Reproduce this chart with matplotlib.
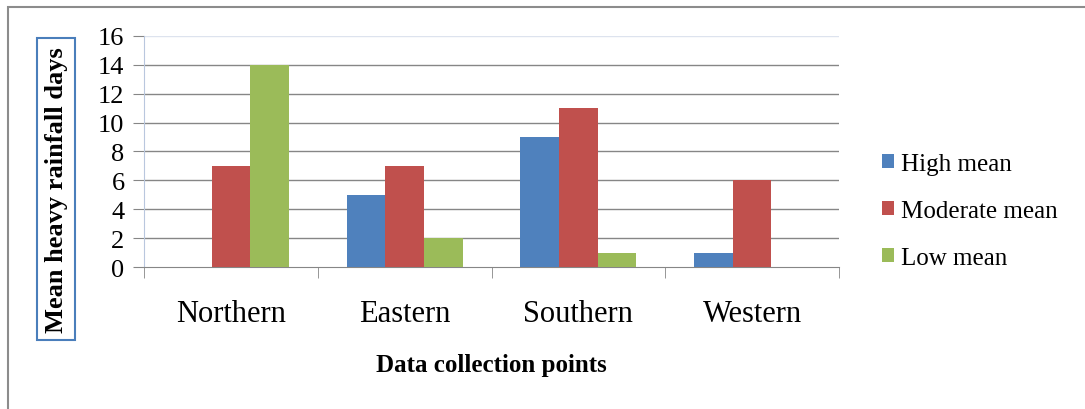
import numpy as np
import matplotlib.pyplot as plt
from matplotlib.patches import Rectangle

# Mean heavy rainfall days per collection point
points = ["Northern", "Eastern", "Southern", "Western"]
high_mean = [0, 5, 9, 1]
moderate_mean = [7, 7, 11, 6]
low_mean = [14, 2, 1, 0]

series = [("High mean", high_mean, "#4F81BD"),
          ("Moderate mean", moderate_mean, "#C0504D"),
          ("Low mean", low_mean, "#9BBB59")]

plt.rcParams['font.family'] = ['Liberation Serif', 'DejaVu Serif']

fig = plt.figure(figsize=(10.85, 4.10), dpi=100)
ax = fig.add_axes([0.1327, 0.3463, 0.6406, 0.5635])

# outer chart frame
fig.patches.append(Rectangle((8 / 1085, -0.1), 1.2, 0.1 + 1 - 8 / 410,
                             transform=fig.transFigure, fill=False,
                             ec="#8c8c8c", lw=1.5))

x = np.arange(len(points))
width = 1 / 4.5
for i, (name, vals, color) in enumerate(series):
    ax.bar(x + (i - 1) * width, vals, width, color=color, label=name, zorder=3)

ax.set_xlim(-0.5, len(points) - 0.5)
ax.set_ylim(0, 16)
ax.set_yticks(range(0, 17, 2))
ax.tick_params(axis='y', labelsize=19, length=8, color="#868686", pad=6)
ax.set_xticks(x)
ax.set_xticklabels(points, fontsize=22)
ax.tick_params(axis='x', length=0, pad=23)
ax.set_xticks(np.arange(-0.5, len(points)), minor=True)
ax.tick_params(axis='x', which='minor', length=8, color="#868686")

for y in range(2, 17, 2):
    ax.axhline(y, color="#868686" if y < 16 else "#dde3ee", lw=1, zorder=1)

for side in ("top", "right"):
    ax.spines[side].set_visible(False)
ax.spines["left"].set_color("#b9c7de")
ax.spines["bottom"].set_color("#868686")

ax.set_xlabel("Data collection points", fontsize=18, fontweight="bold", labelpad=18)

fig.text(56 / 1085, 1 - 190 / 410, "Mean heavy rainfall days", rotation=90,
         ha="center", va="center", fontsize=19, fontweight="bold",
         bbox=dict(boxstyle="square,pad=0.3", fc="white", ec="#4a7ebb", lw=1.5))

ax.legend(loc="center left", bbox_to_anchor=(1.03, 0.242), frameon=False,
          fontsize=18, handlelength=0.45, handleheight=0.45, handletextpad=0.3,
          labelspacing=1.0)

fig.savefig("out.png", dpi=100)
